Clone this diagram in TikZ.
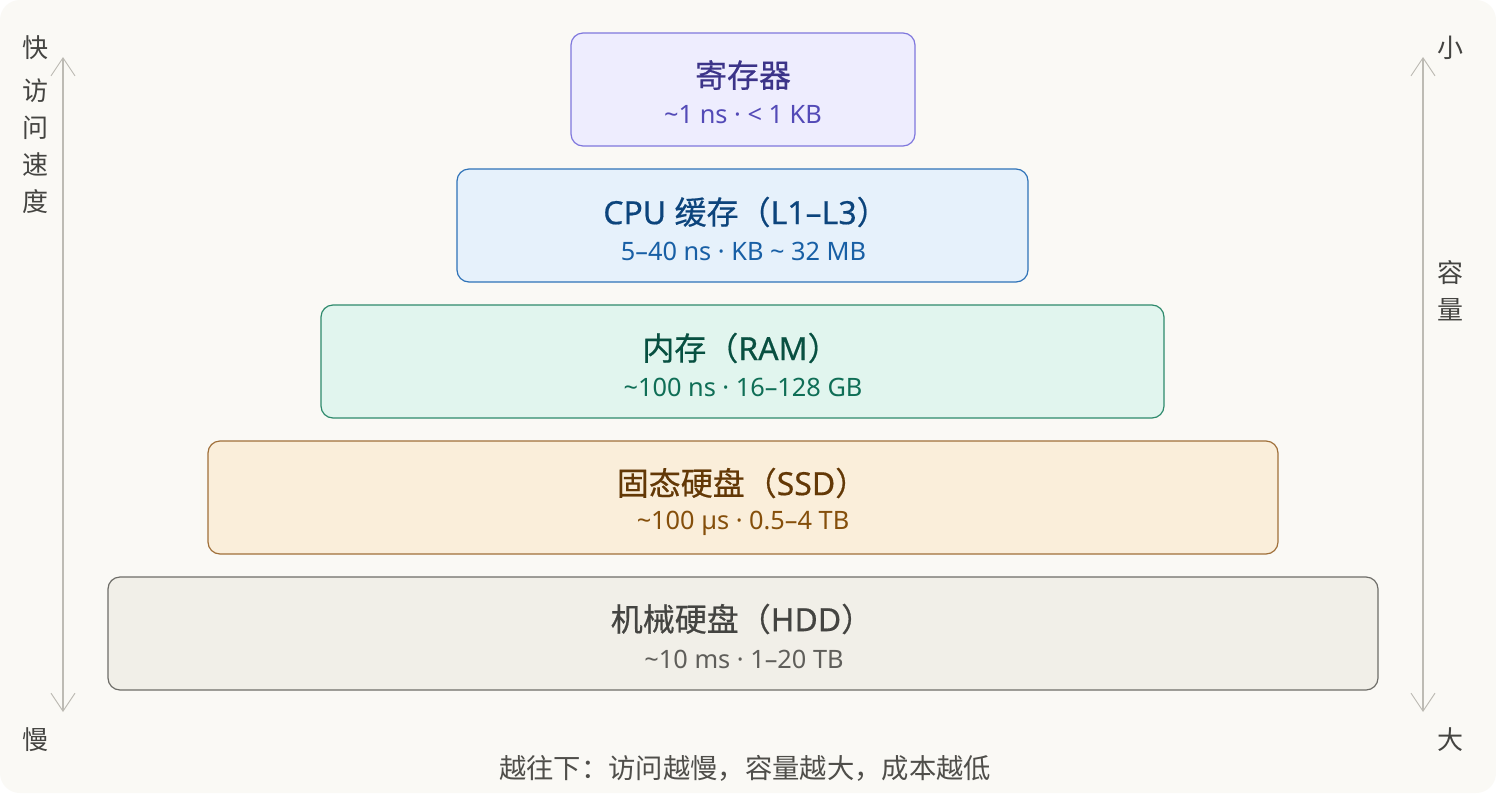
\documentclass[tikz,border=0pt]{standalone}
\usepackage{fontspec}
\setmainfont{Noto Sans}
\newfontfamily\cjk{Noto Sans CJK SC}
\newfontfamily\ttlfont[FakeBold=0.5]{Noto Sans}
\newfontfamily\ttlcjk[FakeBold=0.5]{Noto Sans CJK SC}
\usetikzlibrary{arrows.meta}
\definecolor{bg}{HTML}{FAF9F5}
\definecolor{regF}{HTML}{EEEDFE}\definecolor{regD}{HTML}{7F77DD}\definecolor{regT}{HTML}{3C3489}\definecolor{regS}{HTML}{534AB7}
\definecolor{cpuF}{HTML}{E6F1FB}\definecolor{cpuD}{HTML}{2F73B8}\definecolor{cpuT}{HTML}{0C447C}\definecolor{cpuS}{HTML}{185FA5}
\definecolor{ramF}{HTML}{E1F5EE}\definecolor{ramD}{HTML}{2E8A6C}\definecolor{ramT}{HTML}{085041}\definecolor{ramS}{HTML}{0F6E56}
\definecolor{ssdF}{HTML}{FAEEDA}\definecolor{ssdD}{HTML}{A0703A}\definecolor{ssdT}{HTML}{633806}\definecolor{ssdS}{HTML}{854F0B}
\definecolor{hddF}{HTML}{F1EFE8}\definecolor{hddD}{HTML}{6E6D68}\definecolor{hddT}{HTML}{444441}\definecolor{hddS}{HTML}{5F5E5A}
\definecolor{axis}{HTML}{BDBBB4}
\definecolor{lab}{HTML}{444441}
\definecolor{note}{HTML}{4F4E4A}
\newcommand{\tl}{\textasciitilde}
\begin{document}
\begin{tikzpicture}[x=0.75pt,y=-0.75pt,
  tier/.style={draw, line width=0.9pt, rounded corners=9pt, inner sep=0pt},
  ttl/.style={font=\fontsize{24}{28}\ttlfont, inner sep=0pt},
  sub/.style={font=\fontsize{19}{22}\selectfont, inner sep=0pt},
  side/.style={font=\fontsize{19.5}{22}\cjk, text=lab, inner sep=0pt},
  axisarrow/.style={draw=axis, line width=0.9pt, {Straight Barb[length=13.5pt,width=18pt,line width=0.7pt]}-{Straight Barb[length=13.5pt,width=18pt,line width=0.7pt]}}
]
\useasboundingbox (0,0) rectangle (1496,793);
\fill[white] (0,0) rectangle (1496,793);
\fill[bg, rounded corners=15pt] (0,0) rectangle (1496,793);

% tiers
\node[tier, fill=regF, draw=regD, minimum width=258pt, minimum height=84.75pt] (reg) at (743,89.5) {};
\node[tier, fill=cpuF, draw=cpuD, minimum width=428.25pt, minimum height=84.75pt] (cpu) at (742.5,225.5) {};
\node[tier, fill=ramF, draw=ramD, minimum width=632.25pt, minimum height=84.75pt] (ram) at (742.5,361.5) {};
\node[tier, fill=ssdF, draw=ssdD, minimum width=802.5pt, minimum height=84.75pt] (ssd) at (743,497.5) {};
\node[tier, fill=hddF, draw=hddD, minimum width=952.5pt, minimum height=84.75pt] (hdd) at (743,633.5) {};

\node[ttl, text=regT] (regt) at (743,75) {\ttlcjk 寄存器};
\node[sub, text=regS] (regs) at (743,115) {\tl1 ns · < 1 KB};
\node[ttl, text=cpuT] (cput) at (746,212) {CPU {\ttlcjk 缓存（}L1–L3{\ttlcjk ）}};
\node[sub, text=cpuS] (cpus) at (743.5,251) {5–40 ns · KB \tl{} 32 MB};
\node[ttl, text=ramT] (ramt) at (741,348) {{\ttlcjk 内存（}RAM{\ttlcjk ）}};
\node[sub, text=ramS] (rams) at (743,387) {\tl100 ns · 16–128 GB};
\node[ttl, text=ssdT] (ssdt) at (742,483) {{\ttlcjk 固态硬盘（}SSD{\ttlcjk ）}};
\node[sub, text=ssdS] (ssds) at (743,523) {\tl100 µs · 0.5–4 TB};
\node[ttl, text=hddT] (hddt) at (742,619) {{\ttlcjk 机械硬盘（}HDD{\ttlcjk ）}};
\node[sub, text=hddS] (hdds) at (744,659) {\tl10 ms · 1–20 TB};

% left axis
\coordinate (lt) at (63,57);
\coordinate (lb) at (63,712);
\draw[axisarrow] (lb) -- (lt);
\node[side] (fast) at (35,48) {快};
\node[side] (v1) at (35,91) {访};
\node[side] (v2) at (35,128) {问};
\node[side] (v3) at (35,165) {速};
\node[side] (v4) at (35,202) {度};
\node[side] (slow) at (35,740) {慢};

% right axis
\coordinate (rt) at (1423,57);
\coordinate (rb) at (1423,712);
\draw[axisarrow] (rb) -- (rt);
\node[side] (small) at (1450,48) {小};
\node[side] (c1) at (1450,273) {容};
\node[side] (c2) at (1450,310) {量};
\node[side] (big) at (1450,740) {大};

\node[font=\fontsize{20.5}{24}\cjk, text=note, inner sep=0pt] (note) at (745,768) {越往下：访问越慢，容量越大，成本越低};
\end{tikzpicture}
\end{document}
